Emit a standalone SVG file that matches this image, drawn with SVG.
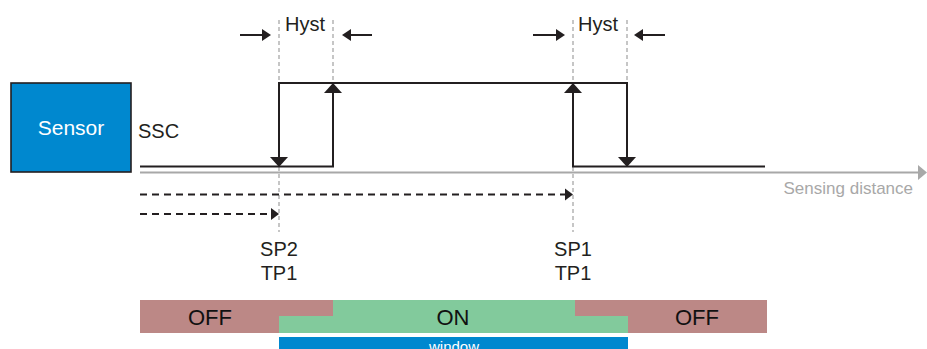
<svg xmlns="http://www.w3.org/2000/svg" width="927" height="349" viewBox="0 0 927 349">
<style>
text{font-family:"Liberation Sans",Arial,sans-serif;}
.sig{fill:none;stroke:#231f20;stroke-width:2;}
.guide{fill:none;stroke:#a8a8a8;stroke-width:1.3;stroke-dasharray:4 3;}
.dash{fill:none;stroke:#231f20;stroke-width:1.8;stroke-dasharray:7 5;}
.head{fill:#231f20;}
.lbl{font-size:20px;fill:#231f20;}
.bar{font-size:22px;fill:#111;text-anchor:middle;}
</style>
<rect width="927" height="349" fill="#fff"/>
<g id="guides">
<line class="guide" x1="279" y1="20" x2="279" y2="232"/>
<line class="guide" x1="333" y1="20" x2="333" y2="84"/>
<line class="guide" x1="573" y1="20" x2="573" y2="232"/>
<line class="guide" x1="627" y1="20" x2="627" y2="84"/>
</g>
<g id="sensor">
<rect x="11" y="83" width="120" height="89" fill="#0088cf" stroke="#231f20" stroke-width="1.6"/>
<text x="71" y="135" font-size="21" fill="#fff" text-anchor="middle">Sensor</text>
</g>
<text id="ssc" class="lbl" x="138" y="138">SSC</text>
<g id="axis">
<line x1="140" y1="172.5" x2="919" y2="172.5" stroke="#a8a8a8" stroke-width="2"/>
<polygon points="918,165 927,172.5 918,180" fill="#a8a8a8"/>
<text x="913" y="194" font-size="17" fill="#a8a8a8" text-anchor="end">Sensing distance</text>
</g>
<g id="connectors">
<polyline class="sig" points="140,166.5 333,166.5 333,90"/>
<polyline class="sig" points="279,158 279,83 627,83 627,158"/>
<polyline class="sig" points="573,90 573,166.5 765,166.5"/>
<polygon class="head" points="270,157 288,157 279,167"/>
<polygon class="head" points="324,93 342,93 333,83"/>
<polygon class="head" points="564,93 582,93 573,83"/>
<polygon class="head" points="618,157 636,157 627,167"/>
<line class="sig" x1="240" y1="35" x2="264" y2="35"/>
<polygon class="head" points="262,29 271,35 262,41"/>
<line class="sig" x1="372" y1="35" x2="349" y2="35"/>
<polygon class="head" points="351,29 342,35 351,41"/>
<line class="sig" x1="533" y1="35" x2="558" y2="35"/>
<polygon class="head" points="556,29 565,35 556,41"/>
<line class="sig" x1="665" y1="35" x2="641" y2="35"/>
<polygon class="head" points="643,29 634,35 643,41"/>
<line class="dash" x1="140" y1="194.5" x2="566" y2="194.5"/>
<polygon class="head" points="565,188.5 573,194.5 565,200.5"/>
<line class="dash" x1="140" y1="214" x2="272" y2="214"/>
<polygon class="head" points="271,208 279,214 271,220"/>
</g>
<g id="labels">
<text class="lbl" x="285" y="31">Hyst</text>
<text class="lbl" x="578" y="31">Hyst</text>
<text class="lbl" x="279" y="256" text-anchor="middle">SP2</text>
<text class="lbl" x="279" y="280" text-anchor="middle">TP1</text>
<text class="lbl" x="573" y="256" text-anchor="middle">SP1</text>
<text class="lbl" x="573" y="280" text-anchor="middle">TP1</text>
</g>
<g id="bars">
<polygon points="140,300 333,300 333,316 279,316 279,333 140,333" fill="#bc8886"/>
<polygon points="333,300 575,300 575,316 628,316 628,333 279,333 279,316 333,316" fill="#82ca9c"/>
<polygon points="575,300 767,300 767,333 628,333 628,316 575,316" fill="#bc8886"/>
<text class="bar" x="210" y="325">OFF</text>
<text class="bar" x="453" y="325">ON</text>
<text class="bar" x="697" y="325">OFF</text>
<rect x="279" y="337" width="349" height="14" fill="#0088cf"/>
<text x="454" y="352" font-size="15" fill="#fff" text-anchor="middle">window</text>
</g>
</svg>
